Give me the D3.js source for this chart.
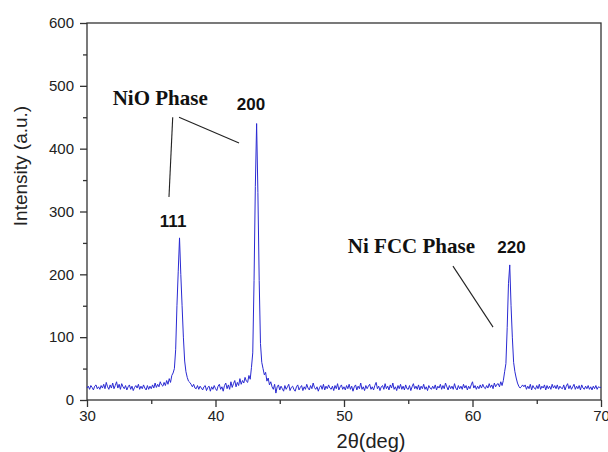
<!DOCTYPE html>
<html>
<head>
<meta charset="utf-8">
<script src="https://cdn.jsdelivr.net/npm/d3@7"></script>
<style>
  body { margin: 0; background: #fff; }
  svg { display: block; }
  .tick text { font-family: "Liberation Sans", Arial, sans-serif; font-size: 15px; fill: #222; }
</style>
</head>
<body>
<div id="chart"></div>
<script>
// scan: 30.0 .. 70.0 deg, step 0.1
const SCAN_START = 30, SCAN_STEP = 0.1;

const counts30to40 = [
  19,22,17,23,20,16,22,24,18,21,
  17,23,19,25,18,28,21,17,24,19,
  27,18,23,29,19,25,17,26,21,18,
  23,16,21,24,17,22,15,20,23,19,
  25,17,22,18,24,19,16,23,17,22,
  18,24,19,27,20,25,21,29,24,22,
  28,23,31,25,34,28,39,43,50,80,
  150,205,258,200,150,100,62,45,36,30,
  28,25,21,25,19,18,23,17,22,19,
  16,21,23,15,20,22,14,21,17,23
];
const counts40to50 = [
  18,15,22,25,17,21,14,23,27,18,
  24,17,29,20,26,31,21,28,23,34,
  25,31,27,36,30,28,39,33,52,75,
  190,340,440,330,190,90,60,50,40,44,
  30,35,24,29,21,17,25,11,21,24,
  16,22,18,14,23,17,21,25,15,20,
  22,17,14,21,24,16,20,23,15,21,
  17,25,19,16,23,18,27,20,17,21,
  14,20,23,17,25,16,22,18,24,19,
  17,22,15,23,18,26,16,21,24,17
];
const counts50to60 = [
  21,16,23,18,25,17,22,14,21,24,
  16,22,18,27,17,21,15,23,18,22,
  25,17,21,16,23,28,18,22,15,21,
  23,17,26,18,22,16,24,19,27,17,
  21,15,23,18,25,17,22,16,24,18,
  17,23,15,21,26,18,22,17,24,16,
  22,18,25,17,21,15,23,19,17,22,
  18,24,16,22,19,25,17,23,18,27,
  21,16,23,18,22,17,26,19,16,23,
  18,22,17,25,19,23,16,22,18,24
];
const counts60to70 = [
  29,19,23,17,22,18,24,19,25,20,
  18,23,19,26,20,24,18,27,21,25,
  26,21,29,23,31,45,58,115,185,215,
  150,100,60,45,35,27,22,19,21,24,
  21,24,17,22,18,25,16,23,19,17,
  23,18,25,17,22,19,24,16,23,18,
  22,17,25,19,23,18,24,17,22,19,
  18,24,16,22,26,18,23,17,21,25,
  17,22,18,23,16,24,19,17,22,18,
  23,17,21,16,22,18,23,17,21,20,
  20
];

const xTicks = [30, 40, 50, 60, 70];
const yTicks = [0, 100, 200, 300, 400, 500, 600];

// annotations: [label, x, y] in data units
const phaseLabels = [["NiO Phase", 32.0, 470], ["Ni FCC Phase", 50.3, 234]];
const peakLabels = [["111", 36.7, 275], ["200", 42.76, 461], ["220", 63.03, 234]];
const leaderLines = [
  [[36.67, 450], [36.38, 323]],
  [[37.16, 450], [41.83, 409]],
  [[58.48, 213], [61.6, 116]]
];

const counts = [].concat(counts30to40, counts40to50, counts50to60, counts60to70);
const data = counts.map((c, i) => ({ angle: SCAN_START + i * SCAN_STEP, count: c }));

const width = 608, height = 452;
const margin = { top: 23, right: 7, bottom: 52, left: 87 };

const svg = d3.select('#chart').append('svg')
  .attr('width', width)
  .attr('height', height);

const x = d3.scaleLinear().domain([30, 70]).range([margin.left, width - margin.right]);
const y = d3.scaleLinear().domain([0, 600]).range([height - margin.bottom, margin.top]);

// frame
svg.append('rect')
  .attr('x', x(30)).attr('y', y(600))
  .attr('width', x(70) - x(30)).attr('height', y(0) - y(600))
  .attr('fill', 'none').attr('stroke', '#333').attr('stroke-width', 1.3);

// minor ticks
svg.append('g')
  .attr('transform', 'translate(0,' + y(0) + ')')
  .call(d3.axisBottom(x).tickValues(d3.range(35, 70, 10)).tickSize(4).tickFormat(''))
  .call(g => g.select('.domain').remove())
  .selectAll('line').attr('stroke', '#333').attr('stroke-width', 1.3);

svg.append('g')
  .attr('transform', 'translate(' + x(30) + ',0)')
  .call(d3.axisLeft(y).tickValues(d3.range(50, 600, 100)).tickSize(4).tickFormat(''))
  .call(g => g.select('.domain').remove())
  .selectAll('line').attr('stroke', '#333').attr('stroke-width', 1.3);

// major ticks
const xAxis = svg.append('g')
  .attr('transform', 'translate(0,' + y(0) + ')')
  .call(d3.axisBottom(x).tickValues(xTicks).tickSize(7).tickPadding(3).tickFormat(d3.format('d')));
xAxis.select('.domain').remove();
xAxis.selectAll('line').attr('stroke', '#333').attr('stroke-width', 1.3);

const yAxis = svg.append('g')
  .attr('transform', 'translate(' + x(30) + ',0)')
  .call(d3.axisLeft(y).tickValues(yTicks).tickSize(7).tickPadding(6).tickFormat(d3.format('d')));
yAxis.select('.domain').remove();
yAxis.selectAll('line').attr('stroke', '#333').attr('stroke-width', 1.3);

// pattern
const line = d3.line()
  .x(d => x(d.angle))
  .y(d => y(d.count));

svg.append('path')
  .datum(data)
  .attr('fill', 'none')
  .attr('stroke', '#2a2ad2')
  .attr('stroke-width', 1)
  .attr('stroke-linejoin', 'round')
  .attr('d', line);

// axis titles
svg.append('text')
  .attr('transform', 'translate(27,' + 166 + ') rotate(-90)')
  .attr('text-anchor', 'middle')
  .style('font-family', '"Liberation Sans", Arial, sans-serif')
  .style('font-size', '19px')
  .attr('fill', '#222')
  .text('Intensity (a.u.)');

svg.append('text')
  .attr('x', 371).attr('y', 448)
  .attr('text-anchor', 'middle')
  .style('font-family', '"Liberation Sans", Arial, sans-serif')
  .style('font-size', '20px')
  .attr('fill', '#222')
  .text('2θ(deg)');

// annotations
svg.selectAll('line.leader')
  .data(leaderLines)
  .enter().append('line')
  .attr('class', 'leader')
  .attr('x1', d => x(d[0][0])).attr('y1', d => y(d[0][1]))
  .attr('x2', d => x(d[1][0])).attr('y2', d => y(d[1][1]))
  .attr('stroke', '#222').attr('stroke-width', 1.1);

svg.selectAll('text.phase')
  .data(phaseLabels)
  .enter().append('text')
  .attr('class', 'phase')
  .attr('x', d => x(d[1])).attr('y', d => y(d[2]))
  .style('font-family', '"Liberation Serif", "Times New Roman", serif')
  .style('font-weight', 'bold')
  .style('font-size', '21px')
  .attr('fill', '#111')
  .text(d => d[0]);

svg.selectAll('text.peak')
  .data(peakLabels)
  .enter().append('text')
  .attr('class', 'peak')
  .attr('x', d => x(d[1])).attr('y', d => y(d[2]))
  .attr('text-anchor', 'middle')
  .style('font-family', '"Liberation Sans", Arial, sans-serif')
  .style('font-weight', 'bold')
  .style('font-size', '17px')
  .attr('fill', '#111')
  .text(d => d[0]);
</script>
</body>
</html>
